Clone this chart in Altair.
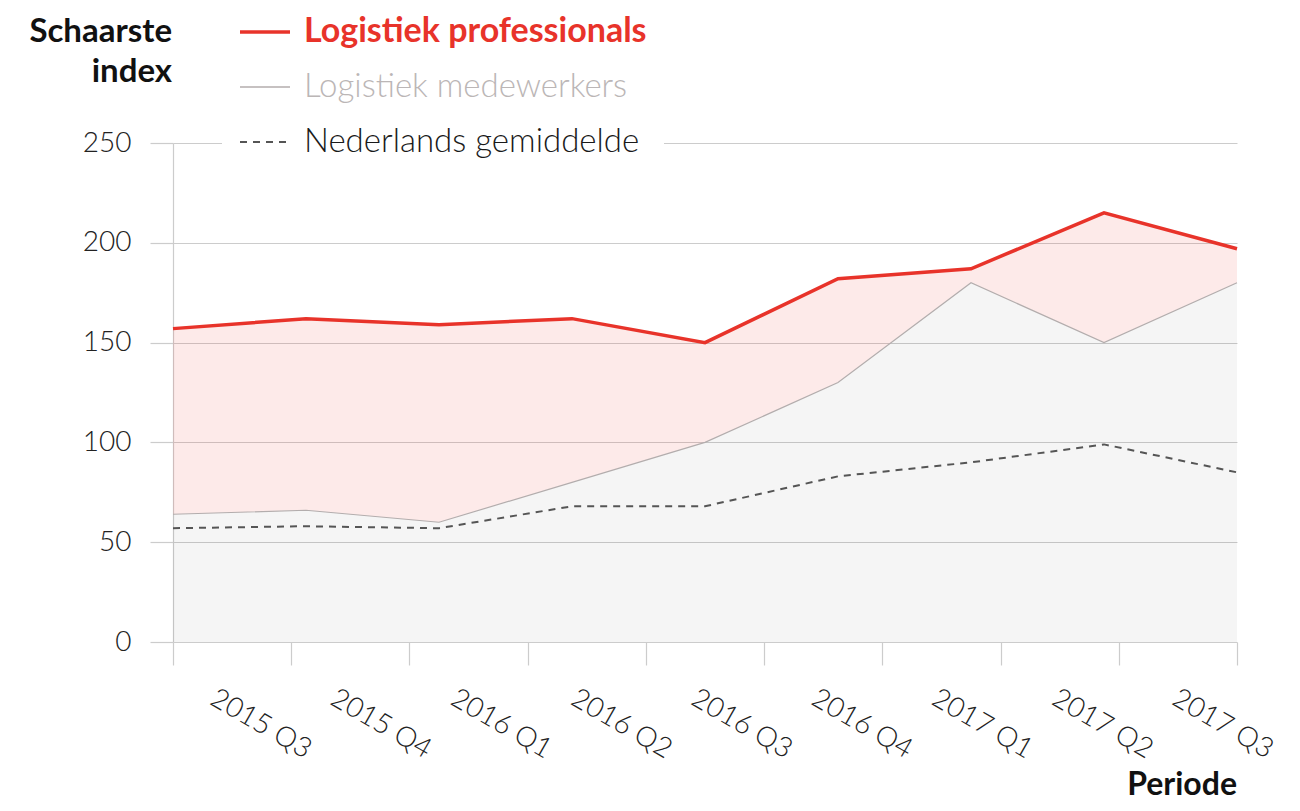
import altair as alt
import pandas as pd

# ---- data ----
periods = ["2015 Q3", "2015 Q4", "2016 Q1", "2016 Q2", "2016 Q3",
           "2016 Q4", "2017 Q1", "2017 Q2", "2017 Q3"]
professionals = [157, 162, 159, 162, 150, 182, 187, 215, 197]
medewerkers = [64, 66, 60, 80, 100, 130, 180, 150, 180]
nederlands = [57, 58, 57, 68, 68, 83, 90, 99, 85]

legend_labels = ["Logistiek professionals", "Logistiek medewerkers", "Nederlands gemiddelde"]
y_title_lines = ["Schaarste", "index"]
x_title = "Periode"
y_ticks = [0, 50, 100, 150, 200, 250]

df = pd.DataFrame({"periode": periods, "prof": professionals,
                   "medew": medewerkers, "ned": nederlands})

FONT = "Lato"
RED = "#e8332a"
GRID = "#cccccc"

xp = alt.X("periode:N", scale=alt.Scale(type="point", padding=0, domain=periods), axis=None)
yscale = alt.Scale(domain=[0, 250], nice=False, zero=True)
yaxis = alt.Axis(values=y_ticks, title=None, grid=True, gridColor=GRID, gridWidth=1,
                 domain=True, domainColor=GRID, domainWidth=1.2,
                 ticks=True, tickSize=23, tickColor=GRID, tickWidth=1.2,
                 labelFont=FONT, labelFontSize=28, labelFontWeight=300,
                 labelColor="#222222", labelPadding=19)


def Y(field):
    return alt.Y(field, scale=yscale, axis=yaxis)


base = alt.Chart(df)

gray_area = base.mark_area(color="#000000", opacity=0.04).encode(x=xp, y=Y("medew:Q"))
pink_band = base.mark_area(color=RED, opacity=0.1).encode(x=xp, y=Y("prof:Q"), y2="medew:Q")
ned_line = base.mark_line(color="#555555", strokeWidth=2, strokeDash=[7, 6]).encode(x=xp, y=Y("ned:Q"))
med_line = base.mark_line(color="#b3adad", strokeWidth=1.2).encode(x=xp, y=Y("medew:Q"))
prof_line = base.mark_line(color=RED, strokeWidth=3.5).encode(x=xp, y=Y("prof:Q"))

# x axis: ticks at band edges, labels between them
axis_layer = base.mark_rule(opacity=0).encode(
    x=alt.X("periode:N",
            scale=alt.Scale(type="band", paddingInner=0, paddingOuter=0, domain=periods),
            axis=alt.Axis(orient="bottom", title=None, domain=False, grid=False,
                          ticks=True, tickBand="extent", tickSize=23, tickColor=GRID, tickWidth=1.2,
                          labelAngle=30, labelAlign="left", labelBaseline="top",
                          labelPadding=19, labelOffset={"expr": "-13 + 16*datum.index"},
                          labelFont=FONT, labelFontSize=28, labelFontWeight=300,
                          labelColor="#222222"))
)


def one(value):
    return alt.Chart(pd.DataFrame({"t": [value]}))


# white box interrupting the top grid line behind the legend
legend_box = one("").mark_rect(color="white").encode(
    x=alt.value(49), x2=alt.value(491), y=alt.value(-14), y2=alt.value(14))

leg_y = [-111, -56, -1]
leg_sym = [
    one(legend_labels[0]).mark_rule(color=RED, strokeWidth=3.5).encode(
        x=alt.value(67), x2=alt.value(117), y=alt.value(leg_y[0])),
    one(legend_labels[1]).mark_rule(color="#b3adad", strokeWidth=1.5).encode(
        x=alt.value(67), x2=alt.value(117), y=alt.value(leg_y[1])),
    one(legend_labels[2]).mark_rule(color="#555555", strokeWidth=2, strokeDash=[7, 6]).encode(
        x=alt.value(67), x2=alt.value(117), y=alt.value(leg_y[2])),
]
leg_txt = [
    one(legend_labels[0]).mark_text(align="left", baseline="middle", font=FONT, fontSize=34,
                                    fontWeight="bold", color=RED).encode(
        text="t:N", x=alt.value(131), y=alt.value(leg_y[0])),
    one(legend_labels[1]).mark_text(align="left", baseline="middle", font=FONT, fontSize=33,
                                    fontWeight=300, color="#bbb6b6").encode(
        text="t:N", x=alt.value(131), y=alt.value(leg_y[1])),
    one(legend_labels[2]).mark_text(align="left", baseline="middle", font=FONT, fontSize=33,
                                    fontWeight=300, color="#1a1a1a").encode(
        text="t:N", x=alt.value(131), y=alt.value(leg_y[2])),
]

y_title = [
    one(y_title_lines[0]).mark_text(align="right", baseline="middle", font=FONT, fontSize=33,
                                    fontWeight="bold", color="#111111").encode(
        text="t:N", x=alt.value(-1), y=alt.value(-111)),
    one(y_title_lines[1]).mark_text(align="right", baseline="middle", font=FONT, fontSize=33,
                                    fontWeight="bold", color="#111111").encode(
        text="t:N", x=alt.value(-1), y=alt.value(-71)),
]
x_title_layer = one(x_title).mark_text(align="right", baseline="alphabetic", font=FONT, fontSize=32,
                                       fontWeight="bold", color="#111111").encode(
    text="t:N", x=alt.value(1064), y=alt.value(652))

chart = alt.layer(
    gray_area, pink_band, ned_line, med_line, prof_line, axis_layer,
    legend_box, *leg_sym, *leg_txt, *y_title, x_title_layer
).resolve_scale(x="independent").properties(
    width=1064, height=499,
    autosize=alt.AutoSizeParams(type="none"),
    padding={"left": 165, "top": 135, "right": 55, "bottom": 161},
    background="white",
).configure_view(stroke=None)

chart.save("out.html", embed_options={"renderer": "svg", "actions": False})
